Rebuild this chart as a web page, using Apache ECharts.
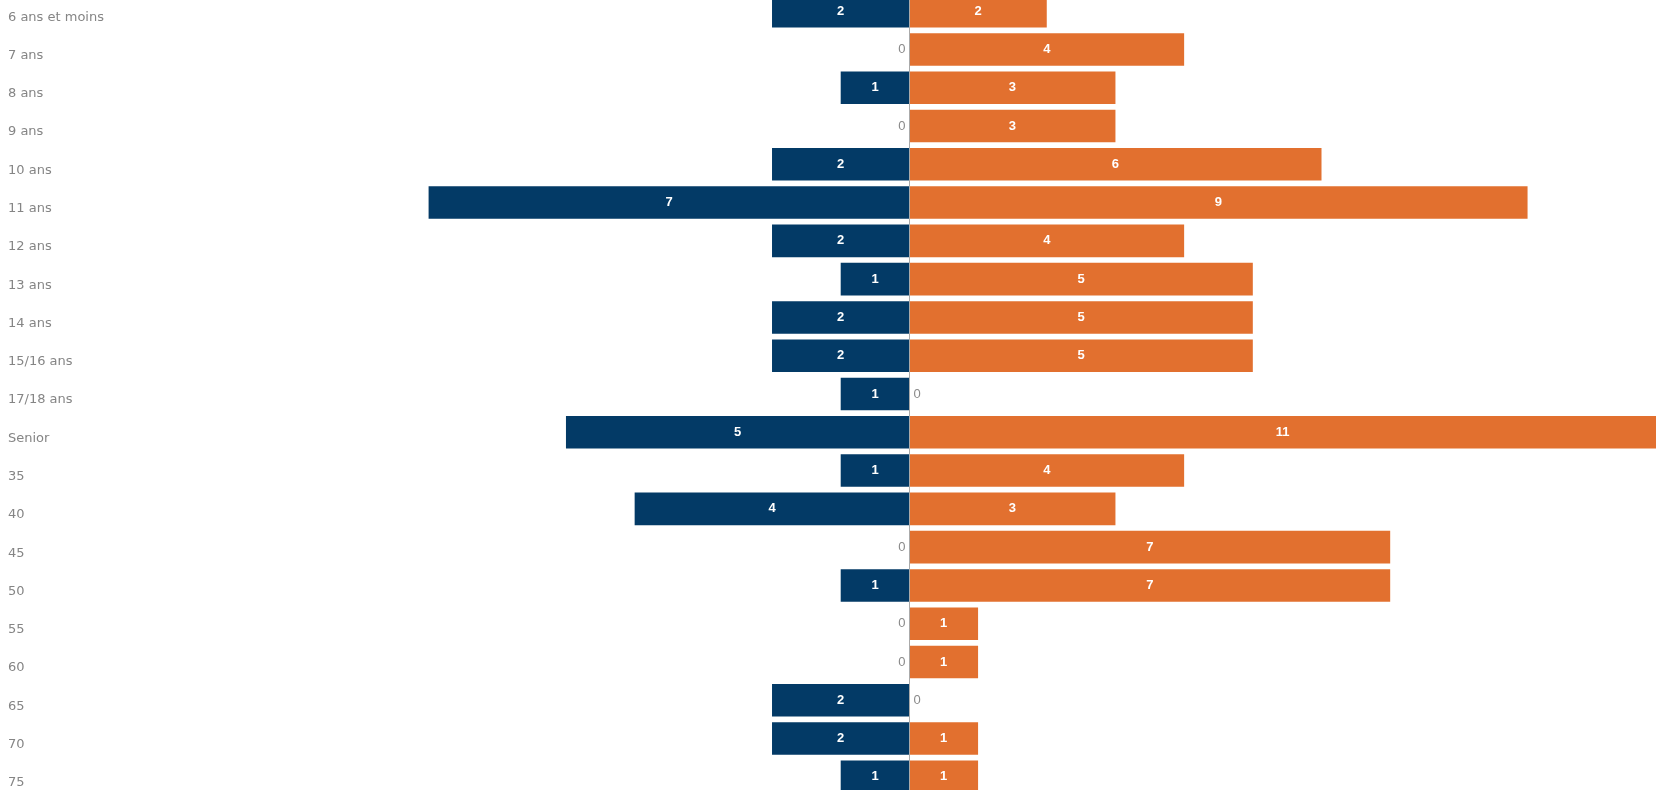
<!DOCTYPE html>
<html>
<head>
<meta charset="utf-8">
<script src="https://cdn.jsdelivr.net/npm/echarts@6/dist/echarts.min.js"></script>
<style>
  html, body { margin: 0; padding: 0; background: #fff; overflow: hidden; }
  #container { position: absolute; left: 0; top: -8px; width: 1656px; height: 804px; }
</style>
</head>
<body>
<div id="container"></div>
<script>
const categories = [
  "6 ans et moins", "7 ans", "8 ans", "9 ans", "10 ans", "11 ans", "12 ans",
  "13 ans", "14 ans", "15/16 ans", "17/18 ans", "Senior", "35", "40", "45",
  "50", "55", "60", "65", "70", "75"
];
const bleu = [2, 0, 1, 0, 2, 7, 2, 1, 2, 2, 1, 5, 1, 4, 0, 1, 0, 0, 2, 2, 1];
const orange = [2, 4, 3, 3, 6, 9, 4, 5, 5, 5, 0, 11, 4, 3, 7, 7, 1, 1, 0, 1, 1];

const dom = document.getElementById("container");
const myChart = echarts.init(dom, null, { renderer: "canvas" });

const police = "DejaVu Sans, Verdana, sans-serif";

function donnees(valeurs, signe, cote) {
  return valeurs.map(function (v) {
    if (v === 0) {
      return {
        value: 0,
        label: { position: cote, color: "#8a8a8a", fontWeight: "normal", distance: 4 }
      };
    }
    return signe * v;
  });
}

const labelBarre = {
  show: true,
  position: "inside",
  color: "#fff",
  fontWeight: "bold",
  fontSize: 13,
  fontFamily: "Liberation Sans, Arial, sans-serif",
  formatter: function (p) {
    return Math.abs(p.value);
  }
};

const option = {
  animation: false,
  grid: { left: 0, right: 0, top: 0, bottom: 0, containLabel: false },
  xAxis: {
    type: "value",
    min: -13.24,
    max: 10.87,
    show: false
  },
  yAxis: {
    type: "category",
    inverse: true,
    data: categories,
    axisLine: { show: false },
    axisTick: { show: false },
    splitLine: { show: false },
    axisLabel: {
      inside: true,
      margin: 8,
      color: "#858585",
      fontSize: 13,
      fontFamily: police,
      verticalAlign: "top",
      lineHeight: 12
    }
  },
  series: [
    {
      type: "bar",
      name: "bleu",
      data: donnees(bleu, -1, "left"),
      barCategoryGap: "15%",
      barGap: "-100%",
      itemStyle: { color: "#033a66" },
      label: labelBarre
    },
    {
      type: "bar",
      name: "orange",
      data: donnees(orange, 1, "right"),
      barCategoryGap: "15%",
      barGap: "-100%",
      itemStyle: { color: "#e2702f" },
      label: labelBarre,
      markLine: {
        silent: true,
        symbol: "none",
        label: { show: false },
        lineStyle: { color: "#aaa", width: 1, type: "solid" },
        data: [{ xAxis: 0 }]
      }
    }
  ]
};

myChart.setOption(option);
window.addEventListener("resize", myChart.resize);
</script>
</body>
</html>
